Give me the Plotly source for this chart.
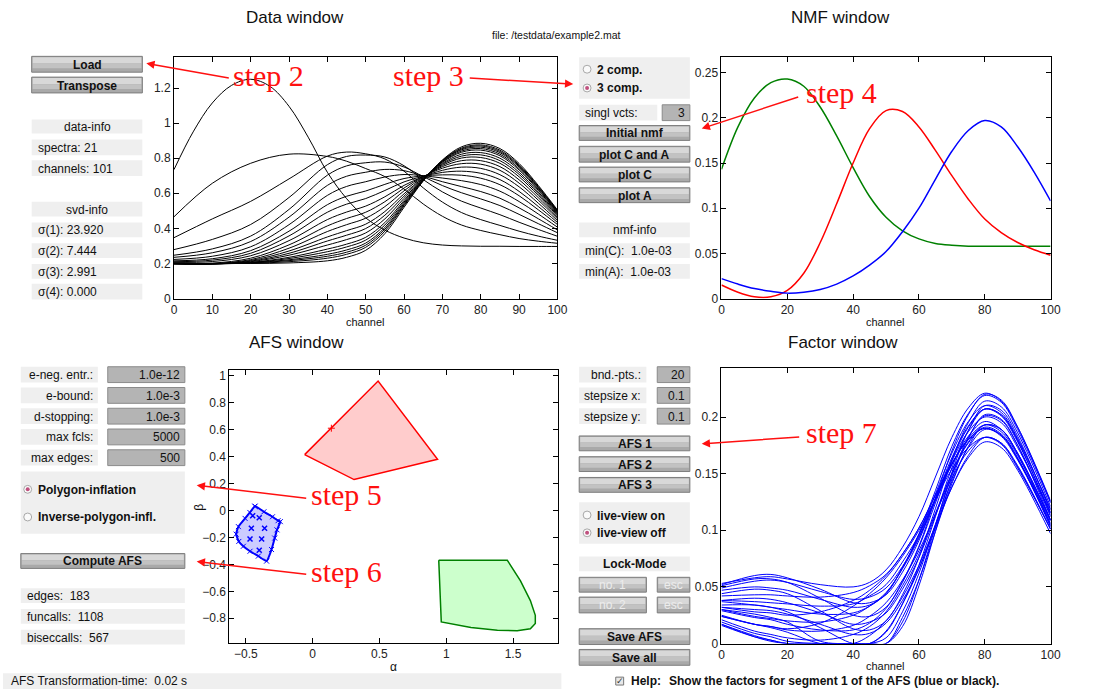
import plotly.graph_objects as go

W, H = 1110, 696

# ---------------- data ----------------
first_channels = [0, 5, 10, 15, 20, 25, 30, 35, 40, 45, 50, 55, 60, 65, 70, 75, 80, 85, 90, 95, 100]
first_spectrum = [0.735, 0.95, 1.115, 1.215, 1.25, 1.21, 1.096, 0.92, 0.72, 0.57, 0.46, 0.39, 0.345,
                  0.318, 0.305, 0.30, 0.298, 0.298, 0.297, 0.297, 0.297]

data_channels = [0, 10, 20, 30, 40, 45, 50, 55, 60, 65, 70, 75, 80, 85, 90, 95, 100]
spectra_rest = [
    [.466, .657, .771, .823, .810, .783, .741, .695, .624, .539, .469, .419, .388, .364, .342, .327, .315],
    [.347, .454, .554, .682, .812, .835, .825, .796, .726, .631, .550, .490, .450, .417, .384, .356, .332],
    [.279, .337, .422, .576, .763, .810, .818, .807, .757, .678, .608, .555, .516, .478, .435, .394, .355],
    [.247, .283, .356, .508, .703, .756, .774, .778, .750, .695, .644, .603, .568, .530, .480, .427, .375],
    [.235, .261, .325, .464, .645, .697, .720, .736, .729, .698, .666, .638, .610, .572, .517, .455, .391],
    [.223, .241, .295, .421, .588, .639, .666, .693, .707, .700, .687, .672, .650, .612, .553, .482, .407],
    [.215, .227, .273, .384, .535, .583, .613, .651, .684, .699, .705, .703, .686, .649, .586, .506, .422],
    [.210, .219, .258, .357, .492, .538, .570, .616, .665, .697, .719, .726, .714, .678, .611, .525, .434],
    [.206, .211, .244, .330, .450, .493, .527, .580, .645, .695, .731, .749, .742, .706, .637, .544, .445],
    [.201, .202, .230, .306, .414, .456, .492, .552, .630, .695, .743, .769, .766, .731, .658, .561, .455],
    [.199, .199, .222, .287, .382, .421, .458, .524, .614, .692, .752, .786, .786, .752, .677, .575, .463],
    [.199, .198, .217, .271, .351, .387, .424, .496, .597, .688, .759, .801, .804, .771, .694, .588, .471],
    [.198, .197, .213, .258, .328, .361, .399, .475, .584, .686, .765, .812, .819, .786, .708, .598, .477],
    [.198, .197, .210, .247, .305, .336, .374, .454, .571, .683, .770, .823, .832, .800, .720, .607, .483],
    [.198, .197, .206, .235, .282, .310, .349, .433, .559, .680, .776, .834, .846, .814, .733, .617, .488],
    [.199, .198, .205, .228, .267, .294, .333, .419, .550, .678, .779, .841, .855, .823, .741, .623, .492],
    [.199, .199, .204, .221, .252, .277, .316, .405, .542, .676, .782, .848, .863, .832, .750, .630, .496],
    [.199, .199, .203, .216, .241, .264, .304, .395, .535, .674, .785, .853, .870, .839, .756, .634, .499],
    [.200, .199, .201, .210, .230, .252, .292, .384, .529, .672, .787, .858, .876, .846, .762, .639, .501],
    [.200, .200, .200, .203, .215, .235, .275, .370, .520, .670, .790, .865, .885, .855, .770, .645, .505],
]

nmf_channels = [0, 5, 10, 15, 20, 25, 30, 35, 40, 45, 50, 55, 60, 65, 70, 75, 80, 85, 90, 95, 100]
nmf_green = [.143, .19, .222, .239, .243, .235, .212, .18, .145, .113, .09, .075, .066, .061, .059, .058,
             .058, .058, .058, .058, .058]
nmf_red = [.015, .007, .002, .002, .009, .028, .062, .105, .15, .188, .208, .207, .19, .164, .136, .110,
           .088, .073, .062, .054, .048]
nmf_blue = [.022, .016, .011, .008, .006, .007, .01, .016, .025, .037, .052, .074, .1, .132, .163, .186,
            .197, .19, .168, .14, .108]

afs_red_alpha = [-0.06, 0.49, 0.935, 0.31, -0.06]
afs_red_beta = [0.414, 0.96, 0.38, 0.229, 0.414]
afs_red_mark = ([0.14], [0.61])

afs_blue_alpha = [-0.432, -0.365, -0.301, -0.259, -0.242, -0.267, -0.284, -0.308, -0.345, -0.407,
                  -0.469, -0.519, -0.553, -0.573, -0.556, -0.506, -0.47, -0.432]
afs_blue_beta = [0.031, -0.01, -0.047, -0.076, -0.083, -0.144, -0.205, -0.29, -0.376, -0.339,
                 -0.303, -0.266, -0.23, -0.176, -0.12, -0.059, -0.015, 0.031]
afs_blue_inner_alpha = [-0.449, -0.4, -0.459, -0.36, -0.469, -0.382, -0.4]
afs_blue_inner_beta = [-0.039, -0.054, -0.132, -0.132, -0.212, -0.212, -0.295]

afs_green_alpha = [0.944, 1.457, 1.556, 1.630, 1.667, 1.667, 1.630, 1.531, 1.383, 1.185, 0.963, 0.944]
afs_green_beta = [-0.369, -0.369, -0.522, -0.669, -0.778, -0.839, -0.878, -0.893, -0.888, -0.868, -0.827, -0.369]

factor_channels = [0, 10, 15, 20, 30, 40, 45, 50, 55, 60, 65, 70, 75, 80, 85, 90, 100]
factor_curves = [
    [.052, .060, .061, .058, .048, .036, .036, .043, .063, .091, .128, .164, .192, .207, .202, .180, .119],
    [.049, .055, .056, .054, .046, .039, .041, .049, .068, .094, .128, .161, .187, .200, .195, .173, .115],
    [.047, .050, .049, .047, .039, .032, .034, .044, .067, .097, .135, .174, .203, .219, .213, .189, .124],
    [.042, .043, .043, .042, .041, .045, .051, .061, .079, .102, .131, .159, .180, .190, .184, .163, .108],
    [.038, .037, .036, .035, .033, .035, .042, .052, .072, .096, .128, .158, .181, .193, .187, .166, .109],
    [.037, .034, .032, .030, .026, .027, .033, .044, .067, .096, .132, .168, .196, .210, .204, .181, .118],
    [.032, .028, .027, .025, .028, .038, .047, .060, .079, .102, .131, .159, .180, .190, .183, .162, .106],
    [.030, .024, .022, .020, .019, .025, .033, .045, .066, .093, .126, .158, .183, .196, .189, .168, .109],
    [.044, .048, .047, .044, .029, .013, .012, .020, .043, .076, .119, .162, .195, .214, .209, .186, .121],
    [.029, .023, .021, .017, .012, .012, .018, .031, .054, .085, .124, .162, .191, .207, .201, .178, .115],
    [.024, .017, .015, .012, .011, .016, .024, .036, .056, .082, .114, .146, .170, .182, .177, .156, .101],
    [.034, .034, .032, .028, .014, 0, 0, .005, .028, .062, .105, .148, .182, .201, .197, .175, .112],
    [.021, .011, .008, .005, .003, .008, .015, .028, .051, .079, .115, .150, .177, .191, .185, .164, .104],
    [.024, .017, .014, .010, 0, 0, 0, .010, .035, .069, .112, .155, .188, .207, .202, .179, .113],
    [.017, .007, .003, 0, 0, 0, 0, .011, .035, .066, .105, .143, .173, .189, .184, .163, .103],
    [.017, .006, .002, 0, 0, 0, 0, 0, .015, .051, .099, .145, .181, .202, .198, .175, .109],
    [.016, .006, .003, 0, 0, 0, .007, .020, .041, .069, .104, .138, .164, .178, .173, .153, .097],
    [.030, .026, .023, .019, .002, 0, 0, 0, .019, .056, .103, .151, .188, .210, .206, .183, .116],
    [.032, .030, .029, .026, .017, .008, .009, .018, .038, .066, .102, .138, .166, .182, .177, .157, .101],
    [.019, .009, .006, .002, 0, 0, 0, 0, .023, .056, .099, .141, .174, .193, .189, .167, .105],
    [.038, .040, .039, .036, .027, .017, .019, .027, .048, .076, .113, .150, .178, .193, .189, .168, .109],
    [.051, .057, .057, .054, .040, .025, .024, .032, .055, .086, .128, .170, .202, .220, .215, .191, .125],
    [.025, .017, .015, .013, .018, .033, .044, .058, .077, .100, .127, .154, .173, .182, .176, .155, .101],
    [.053, .058, .059, .057, .052, .050, .054, .065, .085, .112, .147, .182, .208, .221, .214, .191, .126],
]

# ---------------- helpers ----------------
def px(x):
    return x / W


def py(y):
    return 1 - y / H


SANS = "Liberation Sans, Arial, Helvetica, sans-serif"
NARROW = "Liberation Sans Narrow, Arial Narrow, Liberation Sans, sans-serif"
SERIF = "Liberation Serif, Times New Roman, serif"

shapes = []
annotations = []


def rect(x0, y0, x1, y1, fill, line=None, lw=0):
    shapes.append(dict(type="rect", xref="paper", yref="paper", x0=px(x0), x1=px(x1),
                       y0=py(y1), y1=py(y0), fillcolor=fill,
                       line=dict(color=line or fill, width=lw), layer="above"))


def circle(cx, cy, r, fill, line=None, lw=0):
    shapes.append(dict(type="circle", xref="paper", yref="paper", x0=px(cx - r), x1=px(cx + r),
                       y0=py(cy + r), y1=py(cy - r), fillcolor=fill,
                       line=dict(color=line or fill, width=lw), layer="above"))


def text(x, y, s, size=12, bold=False, anchor="left", color="#111111", family=SANS, angle=0):
    if bold:
        s = "<b>" + s + "</b>"
    annotations.append(dict(xref="paper", yref="paper", x=px(x), y=py(y), text=s, showarrow=False,
                            xanchor=anchor, yanchor="middle", textangle=angle,
                            font=dict(size=size, color=color, family=family)))


def button(x0, y0, x1, y1, label, disabled=False):
    rect(x0, y0, x1, y1, "#a9a9a9", "#7d7d7d", 1)
    rect(x0 + 1, y0 + 1, x1 - 1, y0 + (y1 - y0) * 0.45, "#d8d8d8")
    rect(x0 + 1, y0 + (y1 - y0) * 0.45, x1 - 1, y0 + (y1 - y0) * 0.75, "#c2c2c2")
    if disabled:
        text((x0 + x1) / 2, (y0 + y1) / 2 + 0.5, label, color="#ececec", anchor="center")
    else:
        text((x0 + x1) / 2, (y0 + y1) / 2 + 0.5, label, bold=True, anchor="center")


def info(x0, y0, x1, y1, label, align="left"):
    rect(x0, y0, x1, y1, "#efefef")
    if align == "center":
        text((x0 + x1) / 2, (y0 + y1) / 2 + 0.5, label, anchor="center")
    elif align == "right":
        text(x1 - 3, (y0 + y1) / 2 + 0.5, label, anchor="right")
    else:
        text(x0 + 4, (y0 + y1) / 2 + 0.5, label)


def edit(x0, y0, x1, y1, value):
    rect(x0, y0, x1, y1, "#b4b4b4", "#8a8a8a", 1)
    text(x1 - 3, (y0 + y1) / 2 + 0.5, value, anchor="right")


def radio(cx, cy, label, selected):
    circle(cx, cy, 4, "#fafafa", "#a8a8a8", 1)
    if selected:
        circle(cx, cy, 2, "#c0507e")
    text(cx + 8, cy + 0.5, label, bold=True)


def arrow(hx, hy, tx, ty):
    annotations.append(dict(xref="paper", yref="paper", x=px(hx), y=py(hy), ax=tx - hx, ay=ty - hy,
                            axref="pixel", ayref="pixel", text="", showarrow=True, arrowhead=2,
                            arrowsize=1.1, arrowwidth=1.5, arrowcolor="#ff1010", standoff=0,
                            startstandoff=0))


NB = "\u00a0"

# ---------------- traces ----------------
fig = go.Figure()

fig.add_trace(go.Scatter(x=first_channels, y=first_spectrum, mode="lines", line=dict(color="black", width=1, shape="spline"),
                         xaxis="x", yaxis="y", showlegend=False))
for row in spectra_rest:
    fig.add_trace(go.Scatter(x=data_channels, y=row, mode="lines",
                             line=dict(color="black", width=1, shape="spline"),
                             xaxis="x", yaxis="y", showlegend=False))

for vals, col in [(nmf_green, "rgb(0,128,0)"), (nmf_red, "rgb(255,0,0)"), (nmf_blue, "rgb(0,0,255)")]:
    fig.add_trace(go.Scatter(x=nmf_channels, y=vals, mode="lines",
                             line=dict(color=col, width=1.5, shape="spline"),
                             xaxis="x2", yaxis="y2", showlegend=False))

fig.add_trace(go.Scatter(x=afs_red_alpha, y=afs_red_beta, mode="lines", fill="toself",
                         fillcolor="rgb(255,204,204)", line=dict(color="rgb(255,0,0)", width=1.5),
                         xaxis="x3", yaxis="y3", showlegend=False))
fig.add_trace(go.Scatter(x=afs_red_mark[0], y=afs_red_mark[1], mode="markers",
                         marker=dict(symbol="cross-thin", size=5, line=dict(color="red", width=1)),
                         xaxis="x3", yaxis="y3", showlegend=False))
fig.add_trace(go.Scatter(x=afs_blue_alpha, y=afs_blue_beta, mode="lines+markers", fill="toself",
                         fillcolor="rgb(204,204,255)", line=dict(color="rgb(0,0,255)", width=2, shape="spline", smoothing=0.4),
                         marker=dict(symbol="x-thin", size=5, line=dict(color="rgb(0,0,255)", width=1)),
                         xaxis="x3", yaxis="y3", showlegend=False))
fig.add_trace(go.Scatter(x=afs_blue_inner_alpha, y=afs_blue_inner_beta, mode="markers",
                         marker=dict(symbol="x-thin", size=5, line=dict(color="rgb(0,0,255)", width=1.5)),
                         xaxis="x3", yaxis="y3", showlegend=False))
fig.add_trace(go.Scatter(x=afs_green_alpha, y=afs_green_beta, mode="lines", fill="toself",
                         fillcolor="rgb(204,255,204)", line=dict(color="rgb(0,128,0)", width=1.5),
                         xaxis="x3", yaxis="y3", showlegend=False))

for row in factor_curves:
    fig.add_trace(go.Scatter(x=factor_channels, y=row, mode="lines",
                             line=dict(color="rgb(0,0,255)", width=1, shape="spline"),
                             xaxis="x4", yaxis="y4", showlegend=False))

# ---------------- axes ----------------
def ax(domain, rng, dtick, anchor):
    return dict(domain=domain, range=rng, dtick=dtick, anchor=anchor, showline=True, linecolor="black",
                linewidth=1, mirror="ticks", ticks="inside", ticklen=5, tickcolor="black",
                showgrid=False, zeroline=False, tickfont=dict(size=12, color="#222222", family=SANS))


fig.update_layout(
    width=W, height=H, autosize=False, margin=dict(l=0, r=0, t=0, b=0),
    paper_bgcolor="white", plot_bgcolor="white",
    xaxis=ax([px(173), px(561)], [0, 100], 10, "y"),
    yaxis=ax([py(301), py(57)], [0, 1.375], 0.2, "x"),
    xaxis2=ax([px(727), px(1060)], [0, 100], 20, "y2"),
    yaxis2=ax([py(301), py(57)], [0, 0.267], 0.05, "x2"),
    xaxis3=ax([px(229), px(562)], [-0.624, 1.84], 0.5, "y3"),
    yaxis3=ax([py(649), py(373)], [-0.98, 1.044], 0.2, "x3"),
    xaxis4=ax([px(727), px(1060)], [0, 100], 20, "y4"),
    yaxis4=ax([py(650), py(371)], [0, 0.2435], 0.05, "x4"),
)

# ---------------- titles ----------------
text(295, 17, "Data window", size=17, anchor="center")
text(847, 17, "NMF window", size=17, anchor="center")
text(297, 345, "AFS window", size=17, anchor="center")
text(850, 345, "Factor window", size=17, anchor="center")
text(560, 34, "file: /testdata/example2.mat", size=10.5, anchor="center")
text(367, 325, "channel", size=11, anchor="center")
text(893, 325, "channel", size=11, anchor="center")
text(893, 673, "channel", size=11, anchor="center")
text(395, 674, "α", size=12, anchor="center")
text(198, 512, "β", size=12, anchor="center", angle=-90)

# ---------------- data panel ----------------
button(29, 56, 141, 72, "Load")
button(29, 77, 141, 93, "Transpose")
info(29, 120, 141, 134, "data-info", "center")
info(29, 140, 141, 156, "spectra: 21")
info(29, 161, 141, 177, "channels: 101")
info(29, 203, 141, 218, "svd-info", "center")
info(29, 224, 141, 239, "σ(1): 23.920")
info(29, 245, 141, 260, "σ(2): 7.444")
info(29, 266, 141, 281, "σ(3): 2.991")
info(29, 286, 141, 302, "σ(4): 0.000")

# ---------------- NMF panel ----------------
rect(583, 57, 695, 99, "#efefef")
radio(591, 69, "2 comp.", False)
radio(591, 88, "3 comp.", True)
info(583, 105, 662, 121, "singl vcts:")
edit(667, 105, 695, 121, "3")
button(583, 126, 695, 141, "Initial nmf")
button(583, 147, 695, 163, "plot C and A")
button(583, 168, 695, 183, "plot C")
button(583, 189, 695, 204, "plot A")
info(583, 224, 695, 239, "nmf-info", "center")
info(583, 245, 695, 260, "min(C):" + NB + NB + "1.0e-03")
info(583, 266, 695, 281, "min(A):" + NB + NB + "1.0e-03")

# ---------------- AFS panel ----------------
afs_labels = ["e-neg. entr.:", "e-bound:", "d-stopping:", "max fcls:", "max edges:"]
afs_values = ["1.0e-12", "1.0e-3", "1.0e-3", "5000", "500"]
for i, (lab, val) in enumerate(zip(afs_labels, afs_values)):
    y0 = 370 + 21 * i
    info(18, y0, 96, y0 + 16, lab, "right")
    edit(106, y0, 184, y0 + 16, val)
rect(18, 476, 184, 539, "#efefef")
radio(25, 494, "Polygon-inflation", True)
radio(25, 522, "Inverse-polygon-infl.", False)
button(18, 559, 184, 574, "Compute AFS")
info(18, 594, 184, 609, "edges:" + NB + NB + "183")
info(18, 615, 184, 630, "funcalls:" + NB + NB + "1108")
info(18, 636, 184, 651, "biseccalls:" + NB + NB + "567")

# ---------------- Factor panel ----------------
fac_labels = ["bnd.-pts.:", "stepsize x:", "stepsize y:"]
fac_values = ["20", "0.1", "0.1"]
for i, (lab, val) in enumerate(zip(fac_labels, fac_values)):
    y0 = 370 + 21 * i
    info(583, y0, 651, y0 + 16, lab, "right")
    edit(662, y0, 695, y0 + 16, val)
button(583, 440, 695, 455, "AFS 1")
button(583, 461, 695, 476, "AFS 2")
button(583, 482, 695, 497, "AFS 3")
rect(583, 507, 695, 549, "#efefef")
radio(591, 520, "live-view on", False)
radio(591, 538, "live-view off", True)
rect(583, 562, 695, 577, "#efefef")
text(639, 570, "Lock-Mode", bold=True, anchor="center")
button(583, 583, 651, 598, "no. 1", disabled=True)
button(662, 583, 695, 598, "esc", disabled=True)
button(583, 603, 651, 619, "no. 2", disabled=True)
button(662, 603, 695, 619, "esc", disabled=True)
button(583, 635, 695, 651, "Save AFS")
button(583, 656, 695, 672, "Save all")

# ---------------- bottom bar ----------------
rect(0, 680, 565, 696, "#efefef")
text(6, 688, "AFS Transformation-time:" + NB + NB + "0.02 s", size=12, family=NARROW)
rect(620, 684, 628, 692, "#e8e8e8", "#777777", 1)
text(624, 688, "✓", size=9, anchor="center", color="#333333", family="DejaVu Sans")
text(633, 688, "Help:", size=12, bold=True, family=NARROW)
text(672, 688, "Show the factors for segment 1 of the AFS (blue or black).", size=12, bold=True, family=NARROW)

# ---------------- step annotations ----------------
RED = "#ff1010"
text(231, 75, "step 2", size=30, color=RED, family=SERIF)
text(393, 75, "step 3", size=30, color=RED, family=SERIF)
text(810, 93, "step 4", size=30, color=RED, family=SERIF)
text(310, 499, "step 5", size=30, color=RED, family=SERIF)
text(310, 577, "step 6", size=30, color=RED, family=SERIF)
text(810, 437, "step 7", size=30, color=RED, family=SERIF)
arrow(145, 63, 229, 78)
arrow(577, 84, 472, 78)
arrow(707, 129, 805, 97)
arrow(196, 490, 307, 503)
arrow(196, 567, 307, 580)
arrow(707, 448, 806, 441)

fig.update_layout(shapes=shapes, annotations=annotations)

fig.write_html("out.html", include_plotlyjs=True, config={"displayModeBar": False},
               post_script="document.body.style.margin='0px';document.body.style.overflow='hidden';")
